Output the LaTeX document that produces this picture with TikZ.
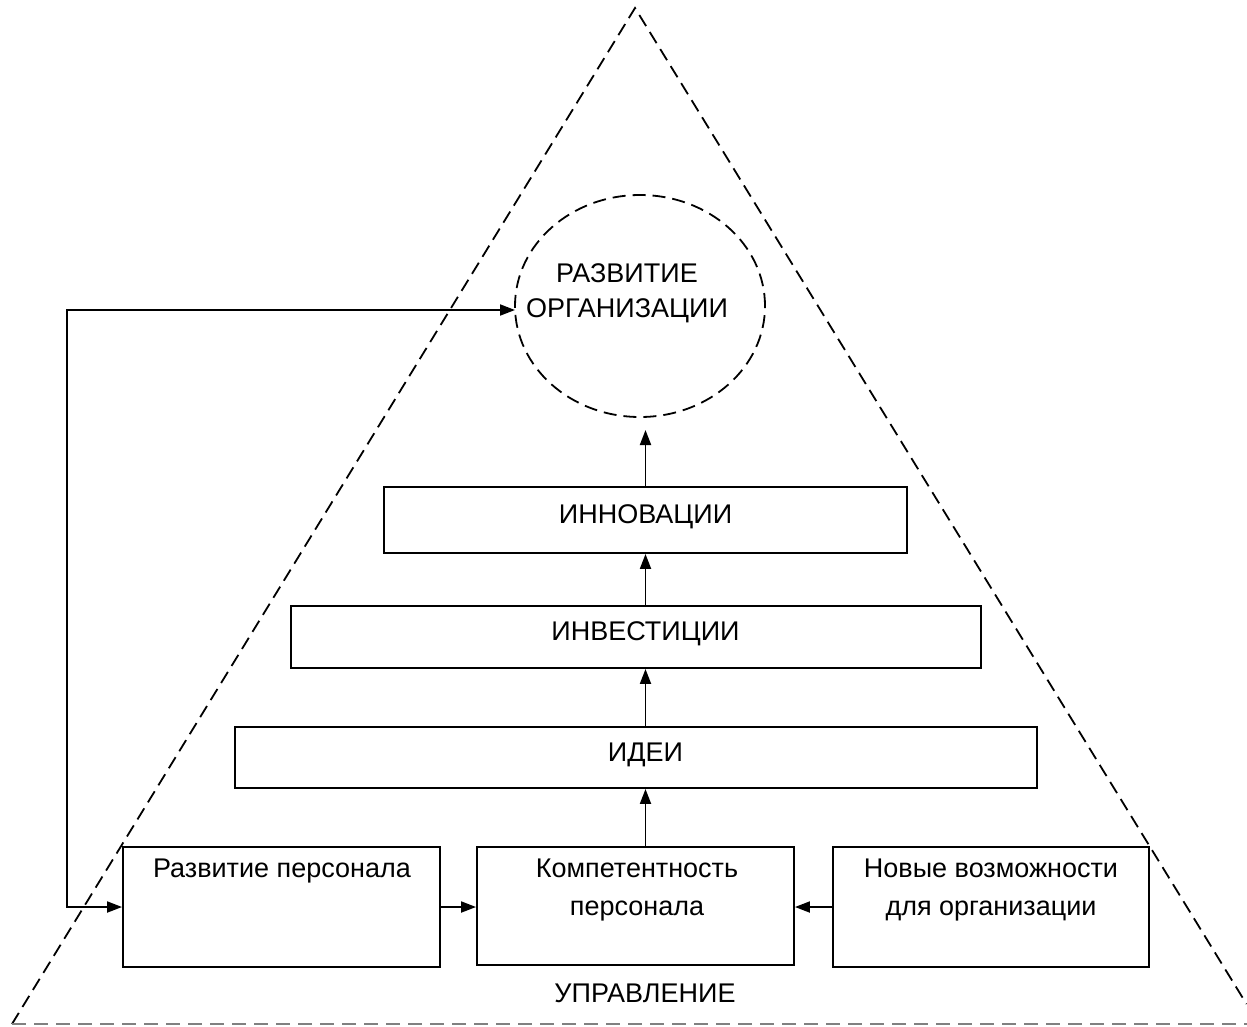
\documentclass[tikz,border=0pt]{standalone}
\usepackage{fontspec}
\setmainfont{Liberation Sans}
\usetikzlibrary{arrows.meta,shapes.geometric,calc}
\begin{document}
\begin{tikzpicture}[x=1pt,y=-1pt,
  box/.style={draw, line width=1.9pt, rectangle, inner sep=0pt},
  arr/.style={line width=1.9pt, -{Triangle[length=15pt,width=11pt]}},
  barr/.style={line width=1.9pt, {Triangle[length=15pt,width=11pt]}-{Triangle[length=15pt,width=11pt]}},
  txt/.style={font=\fontsize{27}{38}\selectfont, align=center},
  tri/.style={line width=1.8pt, dash pattern=on 13pt off 7pt},
  base/.style={line width=2pt, gray, dash pattern=on 14pt off 8pt}]
\useasboundingbox (0,0) rectangle (1247,1026);
% triangle
\coordinate (apex) at (635,8);
\coordinate (bl) at (12,1024);
\coordinate (br) at (1246.5,1004);
\coordinate (be) at (1247,1024);
\draw[tri] (bl) -- (apex) -- (br);
\draw[base] (bl) -- (be);
% circle
\node[draw, ellipse, line width=1.8pt, dash pattern=on 13pt off 7pt, minimum width=250pt, minimum height=222pt] (circ) at (640,306) {};
\node[txt, font=\fontsize{27}{35}\selectfont] (circtxt) at (627,293) {РАЗВИТИЕ\\ОРГАНИЗАЦИИ};
% boxes
\node[box, minimum width=523pt, minimum height=66pt] (inn) at (645.5,520) {};
\node[txt] (inntxt) at (645.5,517) {ИННОВАЦИИ};
\node[box, minimum width=690pt, minimum height=62pt] (inv) at (636,637) {};
\node[txt] (invtxt) at (645.5,634) {ИНВЕСТИЦИИ};
\node[box, minimum width=802pt, minimum height=61pt] (ide) at (636,757.5) {};
\node[txt] (idetxt) at (645.5,755) {ИДЕИ};
\node[box, minimum width=317pt, minimum height=120pt] (rp) at (281.5,907) {};
\node[txt, anchor=north] (rptxt) at (282,855) {Развитие персонала};
\node[box, minimum width=317pt, minimum height=118pt] (kp) at (635.5,906) {};
\node[txt, anchor=north] (kptxt) at (637,855) {Компетентность\\персонала};
\node[box, minimum width=316pt, minimum height=120pt] (nv) at (991,907) {};
\node[txt, anchor=north] (nvtxt) at (991,855) {Новые возможности\\для организации};
\node[txt] (upr) at (645,993) {УПРАВЛЕНИЕ};
% arrows
\coordinate (ax) at (645.5,0);
\coordinate (circend) at (645.5,430);
\draw[arr] (kp.north -| ax) -- (ide.south -| ax);
\draw[arr] (ide.north -| ax) -- (inv.south -| ax);
\draw[arr] (inv.north -| ax) -- (inn.south -| ax);
\draw[arr] (inn.north -| ax) -- (circend);
\draw[arr] (rp.east) -- (rp.east -| kp.west);
\draw[arr] (nv.west) -- (nv.west -| kp.east);
\coordinate (loop) at (67,310);
\coordinate (cin) at (515,310);
\draw[barr] (rp.west) -| (loop) -- (cin);
\end{tikzpicture}
\end{document}
